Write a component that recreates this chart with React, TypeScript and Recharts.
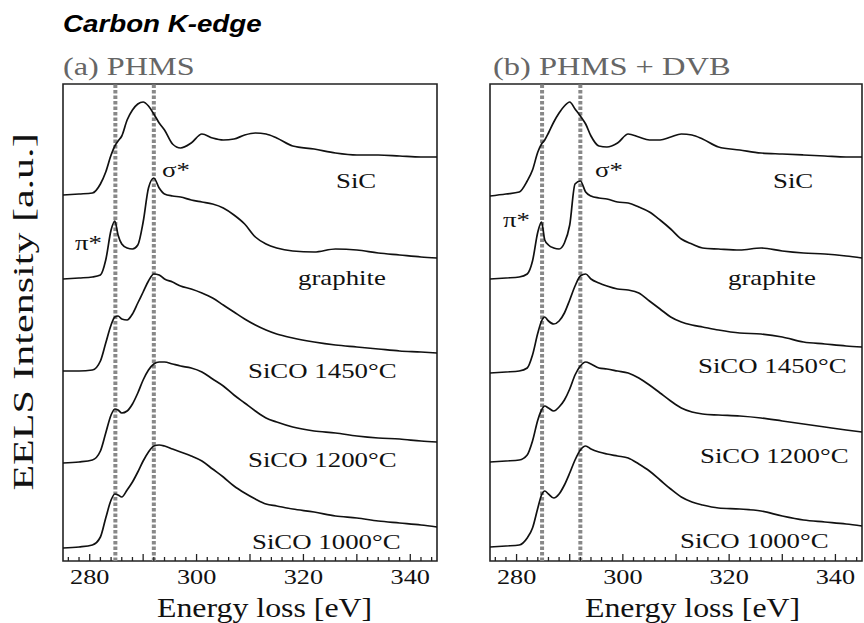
import { LineChart, Line, XAxis, YAxis, ReferenceLine, ReferenceArea } from "recharts";

const SERIF = '"Liberation Serif", "Times New Roman", serif';
const SANS = '"Liberation Sans", Arial, sans-serif';

// energy grid shared by all spectra (eV)
const energy = [
  275, 278, 280.5, 282, 283, 284, 284.7, 285.3, 286, 287,
  288, 289, 290, 291, 292, 293, 294, 295.5, 297, 299,
  301, 303, 305, 307, 309, 311, 313, 315, 318, 322,
  326, 330, 334, 338, 342, 345,
];

// (a) PHMS — stacked intensities, a.u.
const sicA = [
  36.6, 36.7, 36.8, 37.7, 38.9, 40.6, 41.5, 42.0, 42.5, 44.1,
  45.1, 45.7, 45.9, 45.5, 44.7, 43.8, 43.1, 41.7, 41.3, 41.8,
  42.7, 42.3, 42.1, 42.2, 42.6, 42.8, 42.7, 42.3, 41.5, 41.2,
  40.8, 40.6, 40.6, 40.5, 40.4, 40.4,
];
const graphiteA = [
  28.2, 28.3, 28.4, 28.6, 30.1, 33.1, 34.0, 32.6, 31.7, 31.3,
  31.2, 31.6, 33.9, 37.3, 38.3, 37.3, 36.7, 36.5, 36.4, 36.1,
  35.9, 35.7, 35.3, 34.6, 33.7, 32.4, 31.7, 31.3, 31.0, 30.9,
  31.2, 31.1, 30.8, 30.6, 30.4, 30.3,
];
const sico1450A = [
  19.0, 19.0, 19.1, 20.0, 21.8, 23.6, 24.4, 24.5, 24.2, 24.1,
  24.7, 25.8, 26.9, 28.0, 28.7, 28.6, 28.2, 27.9, 27.5, 27.2,
  26.8, 26.3, 25.6, 24.9, 24.2, 23.6, 23.1, 22.7, 22.3, 21.9,
  21.6, 21.4, 21.2, 21.0, 20.9, 20.8,
];
const sico1200A = [
  9.8, 9.9, 10.1, 11.0, 12.8, 14.6, 15.2, 15.1, 14.8, 15.0,
  15.7, 16.8, 18.1, 19.1, 19.7, 19.9, 19.9, 19.7, 19.5, 19.3,
  18.9, 18.2, 17.5, 16.6, 15.8, 15.0, 14.3, 13.9, 13.4, 13.0,
  12.8, 12.5, 12.3, 12.2, 12.0, 11.9,
];
const sico1000A = [
  1.3, 1.4, 1.6, 2.4, 4.3, 6.1, 6.7, 6.6, 6.4, 7.1,
  7.9, 8.9, 10.0, 10.9, 11.5, 11.6, 11.5, 11.2, 10.9, 10.5,
  10.0, 9.2, 8.4, 7.5, 6.8, 6.2, 5.7, 5.5, 5.2, 4.9,
  4.5, 4.3, 4.0, 3.8, 3.6, 3.4,
];

// (b) PHMS + DVB
const sicB = [
  36.5, 36.7, 36.9, 38.0, 39.1, 40.9, 41.7, 42.1, 42.8, 43.9,
  44.8, 45.5, 45.9, 45.2, 44.5, 43.7, 42.5, 41.5, 41.4, 41.8,
  42.7, 42.4, 42.1, 42.1, 42.4, 42.7, 42.6, 42.2, 41.4, 41.1,
  40.8, 40.7, 40.6, 40.5, 40.4, 40.4,
];
const graphiteB = [
  28.2, 28.3, 28.4, 28.7, 30.0, 32.9, 33.9, 32.1, 31.6, 31.3,
  31.2, 31.8, 33.6, 37.7, 38.0, 36.9, 36.5, 36.3, 36.2, 35.9,
  35.8, 35.4, 34.9, 34.1, 33.2, 32.2, 31.7, 31.3, 31.2, 31.1,
  31.3, 31.0, 30.8, 30.7, 30.5, 30.3,
];
const sico1450B = [
  18.8, 18.9, 19.0, 19.3, 20.6, 22.8, 24.0, 24.4, 24.0, 23.7,
  24.0, 24.8, 26.1, 27.5, 28.5, 28.7, 28.2, 27.8, 27.5, 27.2,
  27.1, 26.8, 26.0, 25.2, 24.4, 23.9, 23.6, 23.4, 23.1, 22.8,
  22.7, 22.4, 21.9, 21.7, 21.5, 21.4,
];
const sico1200B = [
  9.9, 10.0, 10.1, 10.6, 12.0, 14.1, 15.1, 15.5, 15.3, 15.0,
  15.4, 16.1, 17.2, 18.6, 19.5, 19.9, 19.7, 19.3, 19.2, 19.0,
  18.8, 18.3, 17.6, 16.8, 16.0, 15.3, 14.9, 14.7, 14.6, 14.5,
  14.3, 14.0, 13.7, 13.4, 13.1, 12.9,
];
const sico1000B = [
  1.4, 1.5, 1.6, 2.3, 3.3, 5.3, 6.6, 7.0, 6.7, 6.3,
  6.7, 7.6, 8.8, 10.1, 11.1, 11.5, 11.2, 10.9, 10.7, 10.5,
  10.3, 9.7, 9.0, 8.1, 7.2, 6.4, 5.9, 5.6, 5.3, 5.2,
  5.0, 4.5, 4.1, 3.9, 3.7, 3.5,
];

const labeledTicks = [280, 300, 320, 340];
const minorTicks = Array.from({ length: 35 }, (_, i) => 276 + 2 * i);
const piEdge = 284.8;
const sigmaEdge = 292;
const X_DOMAIN: [number, number] = [275, 345];
const Y_TOP = 47.7;
const PLOT_BOTTOM = 561;

const seriesKeys = ["sic", "graphite", "sico1450", "sico1200", "sico1000"];

const rowsA = energy.map((e, i) => ({
  e,
  sic: sicA[i],
  graphite: graphiteA[i],
  sico1450: sico1450A[i],
  sico1200: sico1200A[i],
  sico1000: sico1000A[i],
}));
const rowsB = energy.map((e, i) => ({
  e,
  sic: sicB[i],
  graphite: graphiteB[i],
  sico1450: sico1450B[i],
  sico1200: sico1200B[i],
  sico1000: sico1000B[i],
}));

function EnergyTick(props: any) {
  const { x, payload } = props;
  const v = payload.value;
  const len = v % 10 === 0 ? 7 : 4;
  return (
    <g>
      <line x1={x} x2={x} y1={PLOT_BOTTOM} y2={PLOT_BOTTOM - len} stroke="#222" strokeWidth={1.3} />
      {labeledTicks.includes(v) && (
        <text
          transform={`translate(${x},584) scale(1.25,1)`}
          textAnchor="middle"
          fontFamily={SERIF}
          fontSize={21}
          fill="#111"
        >
          {v}
        </text>
      )}
    </g>
  );
}

function Panel({ rows, left, width, marginRight }: { rows: any[]; left: number; width: number; marginRight: number }) {
  return (
    <div style={{ position: "absolute", left, top: 0 }}>
      <LineChart
        width={width}
        height={623}
        data={rows}
        margin={{ top: 84, left: 63, right: marginRight, bottom: 0 }}
      >
        <XAxis
          dataKey="e"
          type="number"
          domain={X_DOMAIN}
          ticks={minorTicks}
          interval={0}
          tick={<EnergyTick />}
          tickLine={false}
          axisLine={false}
          height={62}
          allowDataOverflow
        />
        <YAxis type="number" domain={[0, Y_TOP]} hide allowDataOverflow />
        <ReferenceLine x={piEdge} stroke="#888" strokeWidth={4} strokeDasharray="3.5 2" />
        <ReferenceLine x={sigmaEdge} stroke="#888" strokeWidth={4} strokeDasharray="3.5 2" />
        {seriesKeys.map((k) => (
          <Line
            key={k}
            dataKey={k}
            type="monotone"
            stroke="#111"
            strokeWidth={1.7}
            dot={false}
            activeDot={false}
            isAnimationActive={false}
          />
        ))}
        <ReferenceArea x1={X_DOMAIN[0]} x2={X_DOMAIN[1]} y1={0} y2={Y_TOP} fill="none" stroke="#222" strokeWidth={1.6} />
      </LineChart>
    </div>
  );
}

const curveLabels = [
  { t: "SiC", x: 336, y: 188 },
  { t: "graphite", x: 298, y: 285 },
  { t: "SiCO 1450°C", x: 248, y: 378 },
  { t: "SiCO 1200°C", x: 248, y: 467 },
  { t: "SiCO 1000°C", x: 252, y: 549 },
  { t: "σ*", x: 162, y: 177 },
  { t: "π*", x: 75, y: 250 },
  { t: "SiC", x: 773, y: 188 },
  { t: "graphite", x: 728, y: 285 },
  { t: "SiCO 1450°C", x: 698, y: 373 },
  { t: "SiCO 1200°C", x: 700, y: 463 },
  { t: "SiCO 1000°C", x: 680, y: 548 },
  { t: "σ*", x: 595, y: 177 },
  { t: "π*", x: 503, y: 227 },
];

export default function App() {
  return (
    <div style={{ position: "absolute", left: 0, top: 0, width: 864, height: 623, background: "#fff", overflow: "hidden" }}>
      <Panel rows={rowsA} left={0} width={450} marginRight={13} />
      <Panel rows={rowsB} left={427} width={437} marginRight={2} />
      <svg width={864} height={623} style={{ position: "absolute", left: 0, top: 0, pointerEvents: "none" }}>
        <text
          transform="translate(63,32) scale(1.18,1)"
          fontFamily={SANS}
          fontWeight="bold"
          fontStyle="italic"
          fontSize={23.5}
          fill="#000"
        >
          Carbon K-edge
        </text>
        <text transform="translate(63,75) scale(1.24,1)" fontFamily={SERIF} fontSize={26} fill="#666">
          (a) PHMS
        </text>
        <text transform="translate(493,75) scale(1.25,1)" fontFamily={SERIF} fontSize={26} fill="#666">
          (b) PHMS + DVB
        </text>
        <text
          transform="translate(33,312) rotate(-90) scale(1.45,1)"
          textAnchor="middle"
          fontFamily={SERIF}
          fontSize={29}
          fill="#111"
        >
          EELS Intensity [a.u.]
        </text>
        <text transform="translate(157,617) scale(1.18,1)" fontFamily={SERIF} fontSize={27} fill="#111">
          Energy loss [eV]
        </text>
        <text transform="translate(585,617) scale(1.18,1)" fontFamily={SERIF} fontSize={27} fill="#111">
          Energy loss [eV]
        </text>
        {curveLabels.map((l, i) => (
          <text
            key={i}
            transform={`translate(${l.x},${l.y}) scale(1.22,1)`}
            fontFamily={SERIF}
            fontSize={22}
            fill="#111"
          >
            {l.t}
          </text>
        ))}
      </svg>
    </div>
  );
}
